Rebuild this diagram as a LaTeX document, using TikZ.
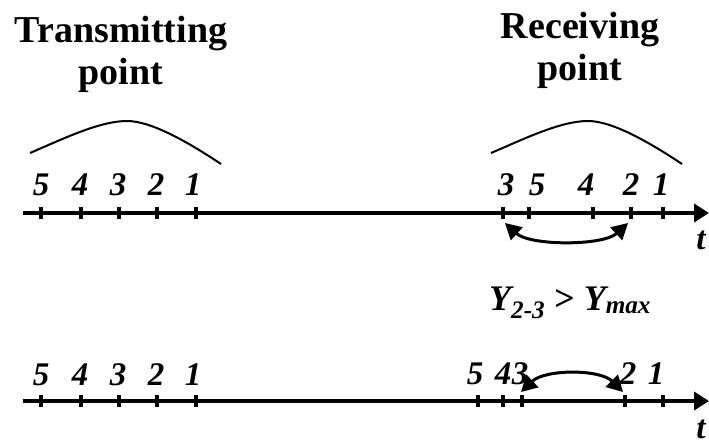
\documentclass[tikz,border=0pt]{standalone}
\usepackage{fontspec}
\setmainfont{Liberation Serif}
\usetikzlibrary{arrows.meta,positioning}

\begin{document}
\begin{tikzpicture}[x=1pt, y=-1pt,
    timeaxis/.style={line width=4pt, -{Triangle[length=15pt,width=18pt]}},
    tickmark/.style={line width=3.5pt},
    num/.style={font=\fontsize{33}{33}\selectfont\bfseries\itshape, anchor=base, inner sep=0pt},
    heading/.style={font=\fontsize{38}{42}\selectfont\bfseries, align=center, inner sep=0pt, anchor=north},
    swaparr/.style={line width=3pt, {Triangle[length=16pt,width=17pt]}-{Triangle[length=16pt,width=17pt]}},
    arch/.style={line width=2pt}
]
\useasboundingbox (0,0) rectangle (709,445);

% headings
\node[heading] (tx) at (121,16) {Transmitting\\point};
\node[heading] (rx) at (580,12) {Receiving\\point};

% arches over the groups
\foreach \s in {0,461}
  \draw[arch, xshift=\s pt] (30,153) .. controls (65,138) and (100,121) .. (127,121)
     .. controls (150,121) and (185,140) .. (221,164);

% time axes
\coordinate (a1) at (23,213);
\coordinate (b1) at (709,213);
\coordinate (a2) at (23,401);
\coordinate (b2) at (709,401);
\draw[timeaxis] (a1) -- (b1);
\draw[timeaxis] (a2) -- (b2);
\node[num] (t1) at (701,249) {t};
\node[num] (t2) at (701,438) {t};

\foreach \x in {41,81,119,157,196,503,529,593,631,663}
  \draw[tickmark] (\x,207) -- (\x,219);
\foreach \x in {41,81,119,157,196,478,503,522,625,663}
  \draw[tickmark] (\x,395) -- (\x,407);

% packet numbers
\foreach \x/\n in {41/5,80/4,118/3,156/2,193/1}
  \node[num] (s\n) at (\x,195) {\n};
\foreach \x/\n in {506/3,537/5,586/4,631/2,661/1}
  \node[num] (r\n) at (\x,195) {\n};
\foreach \x/\n in {41/5,80/4,118/3,156/2,193/1}
  \node[num] (p\n) at (\x,385) {\n};
\foreach \x/\n in {475/5,503/4,520/3,628/2,656/1}
  \node[num] (q\n) at (\x,384) {\n};

% reordering
\coordinate (u3) at (505,223);
\coordinate (u2) at (628,223);
\draw[swaparr] (u3) .. controls (530,246) and (603,246) .. (u2);
\coordinate (l3) at (521,392);
\coordinate (l2) at (623,392);
\draw[swaparr] (l3) .. controls (545,369) and (600,369) .. (l2);

\node[font=\fontsize{36}{36}\selectfont\bfseries\itshape, anchor=base west, inner sep=0pt] (cond) at (489,310)
  {Y\textsubscript{2-3} \upshape>\itshape{} Y\textsubscript{max}};
\end{tikzpicture}
\end{document}
